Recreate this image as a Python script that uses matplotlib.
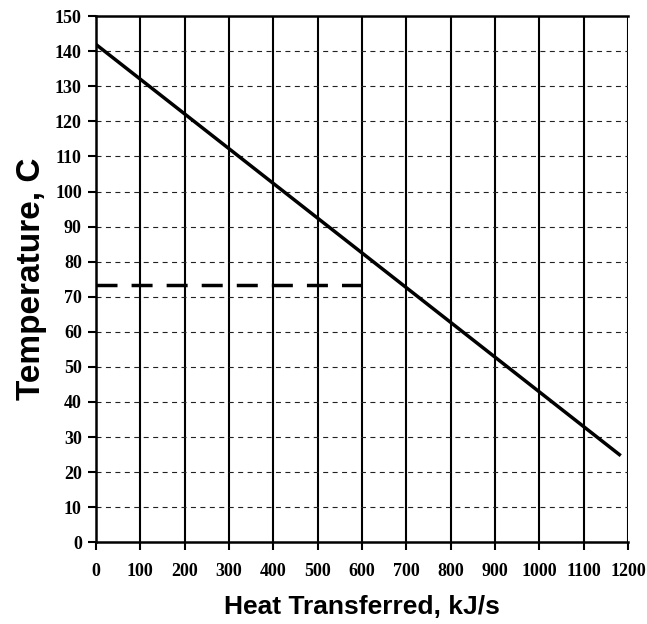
import matplotlib
matplotlib.use("Agg")
import matplotlib.pyplot as plt

heat = [0, 1180]
temp = [142, 25]
dash_x = [0, 600]
dash_y = [73.5, 73.5]
xticks = list(range(0, 1201, 100))
yticks = list(range(0, 151, 10))

fig = plt.figure(figsize=(6.47, 6.24), dpi=100)
ax = fig.add_axes([0.148, 0.131, 0.823, 0.843])
ax.set_xlim(0, 1200)
ax.set_ylim(0, 150)
ax.set_xticks(xticks)
ax.set_yticks(yticks)
for x in xticks[1:]:
    ax.axvline(x, color='black', lw=1.5, zorder=1)
for y in yticks[1:-1]:
    ax.axhline(y, color='#222222', lw=0.8, ls=(0, (4.5, 4)), zorder=1)
ax.plot(heat, temp, color='black', lw=2.5, zorder=3)
ax.plot(dash_x, dash_y, color='black', lw=2.5, ls=(0, (6.05, 4.05)), zorder=3)
for s in ax.spines.values():
    s.set_linewidth(1.8)
ax.spines['right'].set_visible(False)
ax.tick_params(direction='out', length=6, width=1.5, labelsize=13)
for lab in ax.get_xticklabels() + ax.get_yticklabels():
    lab.set_family('Liberation Serif')
    lab.set_fontweight('bold')
ax.tick_params(axis='x', pad=9)
ax.tick_params(axis='y', pad=4)
ax.set_xlabel('Heat Transferred, kJ/s', family='Liberation Sans', fontweight='bold', fontsize=19, labelpad=11)
ax.set_ylabel('Temperature, C', family='Liberation Sans', fontweight='bold', fontsize=24, labelpad=6)
fig.savefig('out.png', dpi=100)
